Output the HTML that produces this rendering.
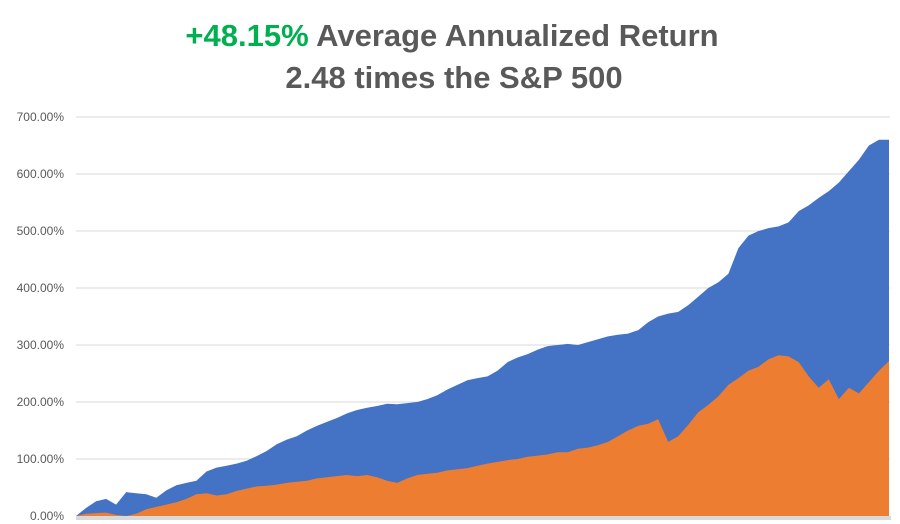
<!DOCTYPE html>
<html><head><meta charset="utf-8"><style>
body{margin:0;background:#fff;}
svg{display:block;font-family:"Liberation Sans",sans-serif;}
</style></head><body>
<svg id="chart" width="900" height="524" viewBox="0 0 900 524">
<text x="452" y="46" text-anchor="middle" font-size="31" font-weight="bold" fill="#595959"><tspan fill="#00b050">+48.15%</tspan> Average Annualized Return</text>
<text x="454" y="88" text-anchor="middle" font-size="31" font-weight="bold" fill="#595959">2.48 times the S&amp;P 500</text>
<g id="grid"></g>
<g id="yticks"></g>
<g id="series"></g>
</svg>
<script>
const yTicks=[0,100,200,300,400,500,600,700];
const yTickLabels=["0.00%","100.00%","200.00%","300.00%","400.00%","500.00%","600.00%","700.00%"];
const strategyReturns=[0,14,26,30,20,42,40,38,32,45,54,58,62,78,85,88,92,97,105,114,126,134,140,150,158,165,172,180,186,190,193,197,196,198,200,205,212,222,230,238,242,245,255,270,278,284,292,298,300,302,300,305,310,315,318,320,326,340,350,355,358,370,385,400,410,425,470,492,500,505,508,515,535,545,558,570,585,605,625,650,660,660];
const sp500Returns=[0,4,5,6,2,0,4,12,16,20,24,30,38,40,36,38,44,48,52,53,55,58,60,62,66,68,70,72,70,72,68,62,58,66,72,74,76,80,82,84,88,92,95,98,100,104,106,108,112,112,118,120,124,130,140,150,158,162,170,130,140,160,182,195,210,230,242,255,262,275,282,280,270,245,225,240,205,225,215,235,255,272];
const X0=76,X1=889,Y0=516,PX100=57;
const ns="http://www.w3.org/2000/svg";
function xs(i,n){return X0+(X1-X0)*i/(n-1);}
function ys(v){return Y0-v*PX100/100;}
const grid=document.getElementById('grid'),yt=document.getElementById('yticks'),se=document.getElementById('series');
yTicks.forEach((t,k)=>{
  if(t>0){const l=document.createElementNS(ns,'line');
  
  
  l.setAttribute('x1',X0);l.setAttribute('x2',X1+1);l.setAttribute('y1',ys(t));l.setAttribute('y2',ys(t));
  l.setAttribute('stroke','#d9d9d9');l.setAttribute('stroke-width','1');grid.appendChild(l);}
  const tx=document.createElementNS(ns,'text');
  
  
  tx.setAttribute('x',64);tx.setAttribute('y',ys(t)+4);tx.setAttribute('text-anchor','end');
  tx.setAttribute('font-size','12');tx.setAttribute('fill','#595959');tx.textContent=yTickLabels[k];yt.appendChild(tx);
});
function area(vals,color,name){
  const n=vals.length;let d='M'+xs(0,n)+','+Y0;
  vals.forEach((v,i)=>{d+=' L'+xs(i,n).toFixed(1)+','+ys(v).toFixed(1);});
  d+=' L'+xs(n-1,n)+','+Y0+' Z';
  const p=document.createElementNS(ns,'path');
  
  
  p.setAttribute('d',d);p.setAttribute('fill',color);se.appendChild(p);
}
area(strategyReturns,'#4472c4','strategy-area');
area(sp500Returns,'#ed7d31','sp500-area');
const base=document.createElementNS(ns,'rect');


base.setAttribute('x',X0);base.setAttribute('y',Y0);base.setAttribute('width',X1-X0+2);base.setAttribute('height',4);base.setAttribute('fill','#d9d9d9');
se.appendChild(base);
</script>
</body></html>
